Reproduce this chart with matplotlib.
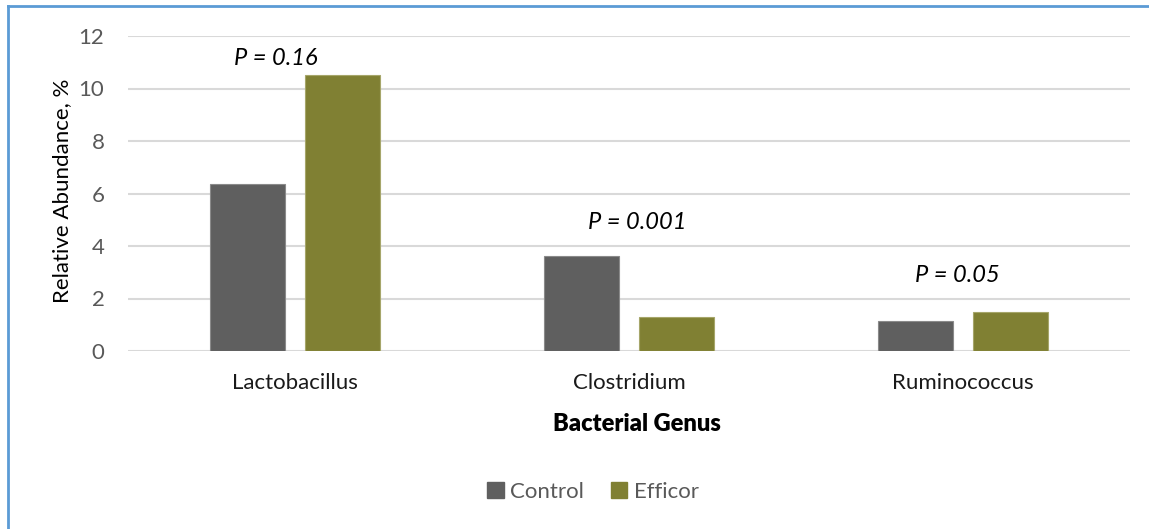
import matplotlib
matplotlib.use("Agg")
import matplotlib.pyplot as plt
import numpy as np
from matplotlib.patches import Rectangle
from matplotlib.lines import Line2D

categories = ["Lactobacillus", "Clostridium", "Ruminococcus"]
control = [6.36, 3.62, 1.14]
efficor = [10.5, 1.31, 1.50]
series_names = ["Control", "Efficor"]
p_labels = ["P = 0.16", "P = 0.001", "P = 0.05"]
p_pos_x = [-0.057, 1.024, 1.982]
p_pos_y = [11.16, 4.91, 2.86]
yticks = [0, 2, 4, 6, 8, 10, 12]

plt.rcParams['font.family'] = ['Lato', 'DejaVu Sans']

W, H = 1149, 529
fig = plt.figure(figsize=(W/100, H/100), dpi=100)
ax = fig.add_axes([128/W, 1-351/H, (1130-128)/W, (351-36)/H])

x = np.arange(len(categories))
bw = 0.225
off = 0.1425
c_ctrl = "#5f5f5f"
c_eff = "#808033"
ax.bar(x - off, control, bw, color=c_ctrl, edgecolor="#8a8a8a", linewidth=0.8, zorder=3)
ax.bar(x + off, efficor, bw, color=c_eff, edgecolor="#a6a66a", linewidth=0.8, zorder=3)

ax.set_xlim(-0.5, 2.5)
ax.set_ylim(0, 12)
ax.set_yticks(yticks)
ax.set_yticklabels([str(v) for v in yticks])
ax.set_xticks(x)
ax.set_xticklabels(categories)
ax.grid(axis='y', color='#d9d9d9', linewidth=1.5, zorder=0)
ax.set_axisbelow(True)
for s in ax.spines.values():
    s.set_visible(False)
ax.tick_params(axis='both', length=0)
ax.tick_params(axis='x', pad=16, labelcolor='#1a1a1a', labelsize=16)
ax.tick_params(axis='y', pad=17, labelcolor='#595959', labelsize=16)

for lbl, px, py in zip(p_labels, p_pos_x, p_pos_y):
    ax.text(px, py, lbl, ha='center', va='center', fontsize=17, style='italic', color='black')

ax.set_ylabel("Relative Abundance, %", fontsize=16, color='black')
ax.yaxis.set_label_coords(-0.056, 0.51)
fig.text(637/W, 1-424/H, "Bacterial Genus", ha='center', va='center', fontsize=17,
         fontweight='heavy', color='black')

handles = [Rectangle((0, 0), 1, 1, color=c_ctrl), Rectangle((0, 0), 1, 1, color=c_eff)]
fig.legend(handles, series_names, loc='center', bbox_to_anchor=(593/W, 1-492/H), ncol=2,
           frameon=False, fontsize=16, handlelength=0.75, handleheight=0.75,
           handletextpad=0.3, columnspacing=1.2, labelcolor='#595959')

# outer border (left and top visible)
fig.add_artist(Line2D([7.5/W, 7.5/W], [0, 1-6/H], color='#5b9bd5', linewidth=2, transform=fig.transFigure))
fig.add_artist(Line2D([7.5/W, 1], [1-6/H, 1-6/H], color='#5b9bd5', linewidth=2, transform=fig.transFigure))

fig.savefig("out.png", dpi=100)
